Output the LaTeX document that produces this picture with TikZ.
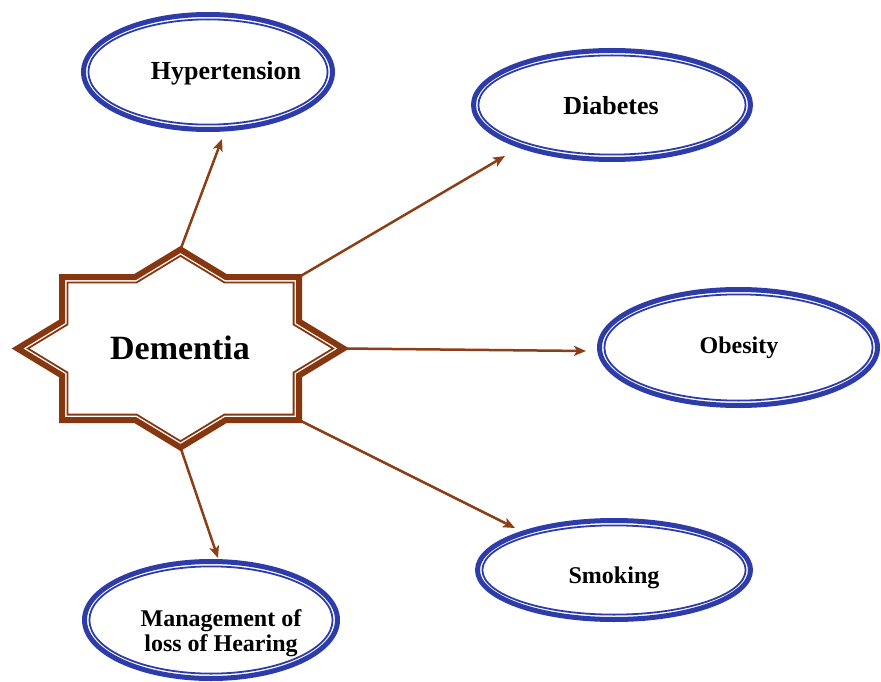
\documentclass[tikz,border=0pt]{standalone}
\usepackage{fontspec}
\setmainfont{Liberation Serif}
\usetikzlibrary{shapes.geometric,arrows.meta}

\definecolor{ovalblue}{RGB}{46,60,170}
\definecolor{starbrown}{RGB}{135,55,15}
\definecolor{arrowbrown}{RGB}{140,62,22}

\tikzset{
  ovalouter/.style={ellipse, draw=ovalblue, line width=5pt, inner sep=0pt, fill=white},
  ovalinner/.style={ellipse, draw=ovalblue, line width=1.8pt, inner sep=0pt},
  factor/.style={font=\bfseries\fontsize{26}{28}\selectfont, inner sep=0pt, anchor=base},
  factorsmall/.style={font=\bfseries\fontsize{24}{25}\selectfont, inner sep=0pt, anchor=base},
  link/.style={draw=arrowbrown, line width=2.5pt,
    -{Stealth[length=12pt,width=10pt,inset=3pt]}},
  starouter/.style={draw=starbrown, line width=6pt, line join=miter, fill=white},
  starinner/.style={draw=starbrown, line width=1.8pt, line join=miter},
}

\begin{document}
\begin{tikzpicture}[x=1pt,y=-1pt]
\useasboundingbox (0,0) rectangle (881,682);

% ---- risk factor ovals (thick outer ring, thin inner ring) ----
\node[ovalouter, minimum width=249pt, minimum height=115pt] (hyp) at (208,72) {};
\node[ovalinner, minimum width=239.2pt, minimum height=105.2pt] (hypin) at (hyp) {};
\node[factor] (hyptext) at (226,80) {Hypertension};

\node[ovalouter, minimum width=277pt, minimum height=109pt] (dia) at (612,105) {};
\node[ovalinner, minimum width=267.2pt, minimum height=99.2pt] (diain) at (dia) {};
\node[factor] (diatext) at (611,115) {Diabetes};

\node[ovalouter, minimum width=278pt, minimum height=116pt] (obe) at (738.5,347.5) {};
\node[ovalinner, minimum width=268.2pt, minimum height=106.2pt] (obein) at (obe) {};
\node[factorsmall] (obetext) at (739,353) {Obesity};

\node[ovalouter, minimum width=273pt, minimum height=99pt] (smo) at (614,570) {};
\node[ovalinner, minimum width=263.2pt, minimum height=89.2pt] (smoin) at (smo) {};
\node[factorsmall] (smotext) at (614,583) {Smoking};

\node[ovalouter, minimum width=253pt, minimum height=117pt] (hear) at (211,620) {};
\node[ovalinner, minimum width=243.2pt, minimum height=107.2pt] (hearin) at (hear) {};
\node[font=\bfseries\fontsize{24}{25}\selectfont, inner sep=0pt, align=center]
  (heartext) at (221,633) {Management of\\loss of Hearing};

% ---- arrow tips ----
\coordinate (tipHyp)  at (222,139);
\coordinate (tipDia)  at (505,156);
\coordinate (tipObe)  at (586,351);
\coordinate (tipSmo)  at (515,528);
\coordinate (tipHear) at (218,558);

% ---- central eight-pointed star ----
\begin{scope}[shift={(180.5,348.5)}]
  \coordinate (sN)  at (0,-99);
  \coordinate (sNE) at (118.5,-71.5);
  \coordinate (sE)  at (163,0);
  \coordinate (sSE) at (118.5,71.5);
  \coordinate (sS)  at (0,99);
\end{scope}

\draw[link] (sN)  -- (tipHyp);
\draw[link] (sNE) -- (tipDia);
\draw[link] (sE)  -- (tipObe);
\draw[link] (sSE) -- (tipSmo);
\draw[link] (sS)  -- (tipHear);

\begin{scope}[shift={(180.5,348.5)}]
  \draw[starouter] (0,-99) -- (45.3,-71.5) -- (118.5,-71.5) -- (118.5,-27) -- (163,0)
    -- (118.5,27) -- (118.5,71.5) -- (45.3,71.5) -- (0,99) -- (-45.3,71.5)
    -- (-118.5,71.5) -- (-118.5,27) -- (-163,0) -- (-118.5,-27) -- (-118.5,-71.5)
    -- (-45.3,-71.5) -- cycle;
  \draw[starinner] (0,-92.7) -- (43.8,-66.1) -- (113.1,-66.1) -- (113.1,-24) -- (152.6,0)
    -- (113.1,24) -- (113.1,66.1) -- (43.8,66.1) -- (0,92.7) -- (-43.8,66.1)
    -- (-113.1,66.1) -- (-113.1,24) -- (-152.6,0) -- (-113.1,-24) -- (-113.1,-66.1)
    -- (-43.8,-66.1) -- cycle;
\end{scope}
\node[font=\bfseries\fontsize{34}{36}\selectfont, inner sep=0pt, anchor=base]
  (dementia) at (180,359) {Dementia};

\end{tikzpicture}
\end{document}
